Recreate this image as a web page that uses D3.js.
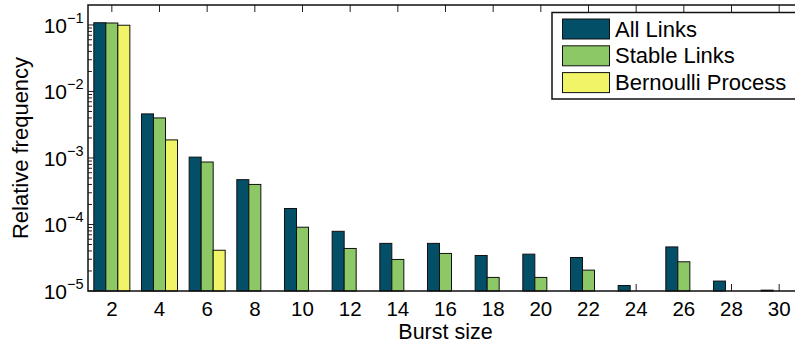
<!DOCTYPE html>
<html>
<head>
<meta charset="utf-8">
<script src="https://cdn.jsdelivr.net/npm/d3@7"></script>
<style>
  body { margin: 0; background: #fff; }
  svg text { font-family: "Liberation Sans", Arial, sans-serif; fill: #000; }
</style>
</head>
<body>
<div id="chart"></div>
<script>
// burst sizes on the x axis
var burstSizes = [2, 4, 6, 8, 10, 12, 14, 16, 18, 20, 22, 24, 26, 28, 30]
// relative frequency per burst size (null = no bar)
var allLinks = [0.108, 0.0046, 0.00103, 4.72e-4, 1.74e-4, 7.9e-5, 5.2e-5, 5.2e-5, 3.42e-5, 3.58e-5, 3.19e-5, 1.21e-5, 4.6e-5, 1.41e-5, 1.03e-5]
var stableLinks = [0.107, 0.0040, 0.00087, 4.0e-4, 9.1e-5, 4.36e-5, 2.98e-5, 3.67e-5, 1.6e-5, 1.6e-5, 2.06e-5, null, 2.75e-5, null, null]
var bernoulli = [0.099, 0.00187, 4.1e-5, null, null, null, null, null, null, null, null, null, null, null, null]
var seriesNames = ['All Links', 'Stable Links', 'Bernoulli Process']
var yTickExps = [-1, -2, -3, -4, -5]

var colors = ['#034f68', '#8cc866', '#f1f466']
var width = 795, height = 347
var plotL = 88, plotR = 803, plotT = 5, plotB = 291

var svg = d3.select('#chart').append('svg')
    .attr('width', width)
    .attr('height', height)

var x = d3.scaleLinear().domain([1, 31]).range([plotL, plotR])
var y = d3.scaleLog().domain([1e-5, Math.pow(10, -0.7)]).range([plotB, plotT])

var barUnits = 0.504
var barW = x(1 + barUnits) - x(1)

// ticks (drawn first so bars cover them, like matlab)
var ticks = svg.append('g').attr('stroke', '#222').attr('stroke-width', 1)
burstSizes.forEach(function(s){
    ticks.append('line').attr('x1', x(s)).attr('x2', x(s)).attr('y1', plotB).attr('y2', plotB - 7)
    ticks.append('line').attr('x1', x(s)).attr('x2', x(s)).attr('y1', plotT).attr('y2', plotT + 7)
})
y.ticks().forEach(function(v){
    var e = Math.log10(v)
    var major = Math.abs(e - Math.round(e)) < 1e-9
    ticks.append('line')
        .attr('x1', plotL).attr('x2', plotL + (major ? 7 : 4))
        .attr('y1', y(v)).attr('y2', y(v))
})

// bars
var series = [allLinks, stableLinks, bernoulli]
series.forEach(function(vals, si){
    var data = burstSizes.map(function(s, i){ return {size: s, value: vals[i]} })
        .filter(function(d){ return d.value !== null })
    svg.append('g').selectAll('rect')
        .data(data)
        .enter()
        .append('rect')
        .attr('x', function(d){ return x(d.size + (si - 1.5) * barUnits) })
        .attr('y', function(d){ return y(d.value) })
        .attr('width', barW)
        .attr('height', function(d){ return plotB - y(d.value) })
        .attr('fill', colors[si])
        .attr('stroke', '#111')
        .attr('stroke-width', 1)
})

// axes box
svg.append('path')
    .attr('d', 'M' + plotR + ',' + plotT + 'H' + plotL + 'V' + plotB + 'H' + plotR)
    .attr('fill', 'none')
    .attr('stroke', '#111')
    .attr('stroke-width', 1.5)

// x tick labels
burstSizes.forEach(function(s){
    svg.append('text')
        .attr('x', x(s))
        .attr('y', 316)
        .attr('text-anchor', 'middle')
        .attr('font-size', 20.5)
        .text(s)
})

// y tick labels 10^n
yTickExps.forEach(function(e){
    var ty = y(Math.pow(10, e))
    svg.append('text')
        .attr('x', 67)
        .attr('y', ty + 8)
        .attr('text-anchor', 'end')
        .attr('font-size', 21)
        .text('10')
    svg.append('text')
        .attr('x', 67)
        .attr('y', ty - 2)
        .attr('font-size', 14.5)
        .text('\u2212' + Math.abs(e))
})

svg.append('text')
    .attr('x', (plotL + plotR) / 2)
    .attr('y', 339)
    .attr('text-anchor', 'middle')
    .attr('font-size', 21.5)
    .text('Burst size')

svg.append('text')
    .attr('transform', 'translate(28,' + ((plotT + plotB) / 2) + ') rotate(-90)')
    .attr('text-anchor', 'middle')
    .attr('font-size', 22)
    .text('Relative frequency')

// legend
var legend = svg.append('g')
legend.append('rect')
    .attr('x', 552).attr('y', 12.5)
    .attr('width', 250).attr('height', 86.5)
    .attr('fill', '#fff')
    .attr('stroke', '#111')
    .attr('stroke-width', 1.5)
seriesNames.forEach(function(name, i){
    var ry = 19 + i * 26.8
    legend.append('rect')
        .attr('x', 562.5).attr('y', ry)
        .attr('width', 47).attr('height', 20)
        .attr('fill', colors[i])
        .attr('stroke', '#111')
        .attr('stroke-width', 1)
    legend.append('text')
        .attr('x', 615)
        .attr('y', ry + 17.5)
        .attr('font-size', 22)
        .text(name)
})
</script>
</body>
</html>
